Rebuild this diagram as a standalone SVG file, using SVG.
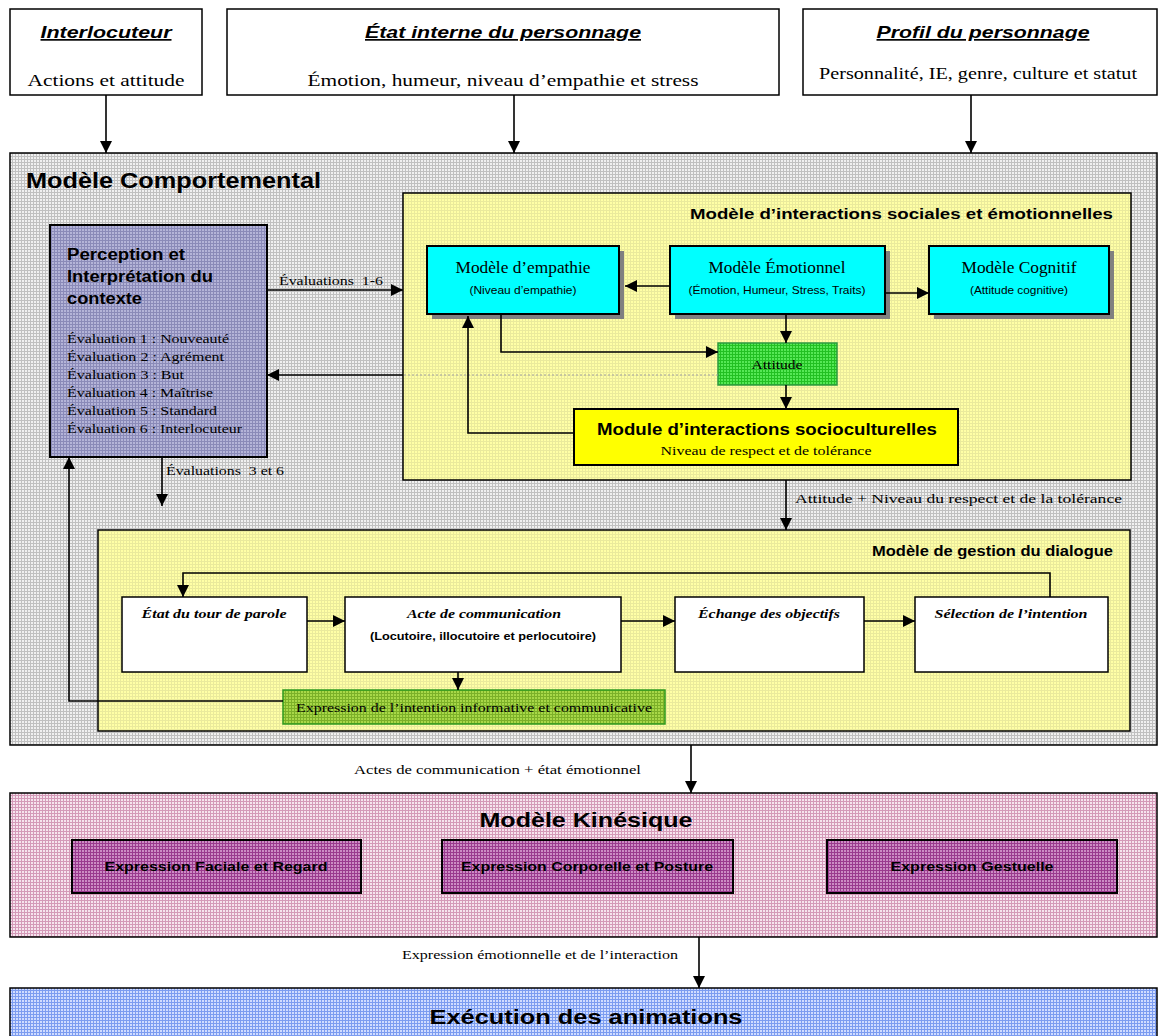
<svg xmlns="http://www.w3.org/2000/svg" width="1158" height="1036" viewBox="0 0 1158 1036">
<style>
.box{stroke:#000;stroke-width:1.5}
.thick{stroke:#000;stroke-width:2}
.ttl{font-family:"Liberation Sans",Arial,sans-serif;font-weight:bold;font-style:italic;text-decoration:underline;font-size:17px;text-anchor:middle}
.tm{font-family:"Liberation Serif","Times New Roman",serif;fill:#000}
.ar{font-family:"Liberation Sans",Arial,sans-serif;fill:#000}
.b{font-weight:bold}
.c{text-anchor:middle}
.e{text-anchor:end}
.conn{fill:none;stroke:#000;stroke-width:1.6}
.pre{white-space:pre}
</style>
<defs>
<marker id="ah" markerWidth="12" markerHeight="12" refX="12" refY="6" orient="auto" markerUnits="userSpaceOnUse">
<path d="M0,0 L12,6 L0,12 Z" fill="#000"/>
</marker>
<pattern id="pGray" width="3" height="3" patternUnits="userSpaceOnUse"><rect width="3" height="3" fill="#f0f0f0"/><path d="M0,0.5H3M0.5,0V3" stroke="#c0c0c0" stroke-width="1"/></pattern>
<pattern id="pYel" width="3" height="3" patternUnits="userSpaceOnUse"><rect width="3" height="3" fill="#ffffa6"/><path d="M0,0.5H3M0.5,0V3" stroke="#eaea9c" stroke-width="1"/></pattern>
<pattern id="pPer" width="3" height="3" patternUnits="userSpaceOnUse"><rect width="3" height="3" fill="#b4b4d8"/><path d="M0,0.5H3M0.5,0V3" stroke="#8a8ab8" stroke-width="1"/></pattern>
<pattern id="pPink" width="3" height="3" patternUnits="userSpaceOnUse"><rect width="3" height="3" fill="#f6e4ee"/><path d="M0,0.5H3M0.5,0V3" stroke="#d49ab8" stroke-width="1"/></pattern>
<pattern id="pPur" width="3" height="3" patternUnits="userSpaceOnUse"><rect width="3" height="3" fill="#cc8cc4"/><path d="M0,0.5H3M0.5,0V3" stroke="#9a3a8e" stroke-width="1"/></pattern>
<pattern id="pBlue" width="3" height="3" patternUnits="userSpaceOnUse"><rect width="3" height="3" fill="#d0dcff"/><path d="M0,0.5H3M0.5,0V3" stroke="#7c9cf0" stroke-width="1"/></pattern>
<pattern id="pGreen" width="3" height="3" patternUnits="userSpaceOnUse"><rect width="3" height="3" fill="#55e855"/><path d="M0,0.5H3M0.5,0V3" stroke="#22c022" stroke-width="1"/></pattern>
<pattern id="pOlive" width="3" height="3" patternUnits="userSpaceOnUse"><rect width="3" height="3" fill="#a8d848"/><path d="M0,0.5H3M0.5,0V3" stroke="#7cb028" stroke-width="1"/></pattern>
</defs>

<!-- top input boxes -->
<g id="interlocuteur">
<rect x="10" y="9" width="192" height="86" fill="#fff" class="box"/>
<text x="106" y="38" class="ttl" textLength="131" lengthAdjust="spacingAndGlyphs">Interlocuteur</text>
<text x="106" y="86" class="tm c" font-size="17" textLength="157" lengthAdjust="spacingAndGlyphs">Actions et attitude</text>
</g>
<g id="etat-interne">
<rect x="227" y="9" width="552" height="86" fill="#fff" class="box"/>
<text x="503" y="38" class="ttl" textLength="276" lengthAdjust="spacingAndGlyphs">État interne du personnage</text>
<text x="503" y="86" class="tm c" font-size="17" textLength="391" lengthAdjust="spacingAndGlyphs">Émotion, humeur, niveau d’empathie et stress</text>
</g>
<g id="profil">
<rect x="803" y="9" width="354" height="86" fill="#fff" class="box"/>
<text x="983" y="38" class="ttl" textLength="213" lengthAdjust="spacingAndGlyphs">Profil du personnage</text>
<text x="978" y="79" class="tm c" font-size="16" textLength="318" lengthAdjust="spacingAndGlyphs">Personnalité, IE, genre, culture et statut</text>
</g>

<!-- behavioural model -->
<g id="modele-comportemental">
<rect x="10" y="153" width="1147" height="592" fill="url(#pGray)" class="box"/>
<text x="26" y="188" class="ar b" font-size="22" textLength="295" lengthAdjust="spacingAndGlyphs">Modèle Comportemental</text>
</g>
<g id="modele-interactions">
<rect x="403" y="193" width="728" height="287" fill="url(#pYel)" class="box"/>
<text x="1113" y="219" class="ar b e" font-size="15" textLength="423" lengthAdjust="spacingAndGlyphs">Modèle d’interactions sociales et émotionnelles</text>
</g>
<g id="perception">
<rect x="50" y="225" width="217" height="232" fill="url(#pPer)" class="thick"/>
<text x="67" y="260" class="ar b" font-size="16" textLength="118" lengthAdjust="spacingAndGlyphs">Perception et</text>
<text x="67" y="282" class="ar b" font-size="16" textLength="146" lengthAdjust="spacingAndGlyphs">Interprétation du</text>
<text x="67" y="304" class="ar b" font-size="16" textLength="75" lengthAdjust="spacingAndGlyphs">contexte</text>
<text x="67" y="343" class="tm" font-size="13.5" textLength="162" lengthAdjust="spacingAndGlyphs">Évaluation 1 : Nouveauté</text>
<text x="67" y="361" class="tm" font-size="13.5" textLength="157" lengthAdjust="spacingAndGlyphs">Évaluation 2 : Agrément</text>
<text x="67" y="379" class="tm" font-size="13.5" textLength="117" lengthAdjust="spacingAndGlyphs">Évaluation 3 : But</text>
<text x="67" y="397" class="tm" font-size="13.5" textLength="146" lengthAdjust="spacingAndGlyphs">Évaluation 4 : Maîtrise</text>
<text x="67" y="415" class="tm" font-size="13.5" textLength="150" lengthAdjust="spacingAndGlyphs">Évaluation 5 : Standard</text>
<text x="67" y="433" class="tm" font-size="13.5" textLength="175" lengthAdjust="spacingAndGlyphs">Évaluation 6 : Interlocuteur</text>
</g>
<g id="empathie">
<rect x="432" y="251" width="192" height="68" fill="#808080"/>
<rect x="427" y="246" width="192" height="68" fill="#00ffff" class="thick"/>
<text x="523" y="273" class="tm c" font-size="16" textLength="135" lengthAdjust="spacingAndGlyphs">Modèle d’empathie</text>
<text x="523" y="294" class="ar c" font-size="11" textLength="107" lengthAdjust="spacingAndGlyphs">(Niveau d’empathie)</text>
</g>
<g id="emotionnel">
<rect x="675" y="251" width="215" height="68" fill="#808080"/>
<rect x="670" y="246" width="215" height="68" fill="#00ffff" class="thick"/>
<text x="777" y="273" class="tm c" font-size="16" textLength="137" lengthAdjust="spacingAndGlyphs">Modèle Émotionnel</text>
<text x="777" y="294" class="ar c" font-size="11" textLength="177" lengthAdjust="spacingAndGlyphs">(Émotion, Humeur, Stress, Traits)</text>
</g>
<g id="cognitif">
<rect x="934" y="251" width="180" height="68" fill="#808080"/>
<rect x="929" y="246" width="180" height="68" fill="#00ffff" class="thick"/>
<text x="1019" y="273" class="tm c" font-size="16" textLength="115" lengthAdjust="spacingAndGlyphs">Modèle Cognitif</text>
<text x="1019" y="294" class="ar c" font-size="11" textLength="98" lengthAdjust="spacingAndGlyphs">(Attitude cognitive)</text>
</g>
<g id="attitude">
<rect x="718" y="343" width="119" height="42" fill="url(#pGreen)" stroke="#2f9a3f" stroke-width="1.5"/>
<text x="777" y="369" class="tm c" font-size="13" textLength="51" lengthAdjust="spacingAndGlyphs">Attitude</text>
</g>
<g id="socioculturel">
<rect x="574" y="409" width="384" height="56" fill="#ffff00" class="thick"/>
<text x="767" y="435" class="ar b c" font-size="17" textLength="340" lengthAdjust="spacingAndGlyphs">Module d’interactions socioculturelles</text>
<text x="766" y="455" class="tm c" font-size="13" textLength="211" lengthAdjust="spacingAndGlyphs">Niveau de respect et de tolérance</text>
</g>

<!-- dialogue -->
<g id="modele-dialogue">
<rect x="98" y="530" width="1032" height="201" fill="url(#pYel)" class="box"/>
<text x="1113" y="556" class="ar b e" font-size="15" textLength="241" lengthAdjust="spacingAndGlyphs">Modèle de gestion du dialogue</text>
</g>
<g id="tour-parole">
<rect x="122" y="597" width="185" height="75" fill="#fff" class="box"/>
<text x="214" y="618" class="tm b c" font-style="italic" font-size="13" textLength="145" lengthAdjust="spacingAndGlyphs">État du tour de parole</text>
</g>
<g id="acte-communication">
<rect x="345" y="597" width="276" height="75" fill="#fff" class="box"/>
<text x="484" y="618" class="tm b c" font-style="italic" font-size="13" textLength="154" lengthAdjust="spacingAndGlyphs">Acte de communication</text>
<text x="483" y="640" class="ar b c" font-size="10" textLength="226" lengthAdjust="spacingAndGlyphs">(Locutoire, illocutoire et perlocutoire)</text>
</g>
<g id="echange-objectifs">
<rect x="675" y="597" width="189" height="75" fill="#fff" class="box"/>
<text x="769" y="618" class="tm b c" font-style="italic" font-size="13" textLength="142" lengthAdjust="spacingAndGlyphs">Échange des objectifs</text>
</g>
<g id="selection-intention">
<rect x="915" y="597" width="193" height="75" fill="#fff" class="box"/>
<text x="1011" y="618" class="tm b c" font-style="italic" font-size="13" textLength="153" lengthAdjust="spacingAndGlyphs">Sélection de l’intention</text>
</g>
<g id="expression-intention">
<rect x="283" y="690" width="382" height="34" fill="url(#pOlive)" stroke="#2f9a1f" stroke-width="1.5"/>
<text x="474" y="712" class="tm c" font-size="13" textLength="356" lengthAdjust="spacingAndGlyphs">Expression de l’intention informative et communicative</text>
</g>

<!-- kinesic -->
<g id="modele-kinesique">
<rect x="10" y="793" width="1147" height="144" fill="url(#pPink)" class="box"/>
<text x="586" y="827" class="ar b c" font-size="21" textLength="213" lengthAdjust="spacingAndGlyphs">Modèle Kinésique</text>
</g>
<g id="faciale">
<rect x="72" y="840" width="289" height="53" fill="url(#pPur)" class="thick"/>
<text x="216" y="871" class="ar b c" font-size="12.5" textLength="223" lengthAdjust="spacingAndGlyphs">Expression Faciale et Regard</text>
</g>
<g id="corporelle">
<rect x="442" y="840" width="291" height="53" fill="url(#pPur)" class="thick"/>
<text x="587" y="871" class="ar b c" font-size="12.5" textLength="252" lengthAdjust="spacingAndGlyphs">Expression Corporelle et Posture</text>
</g>
<g id="gestuelle">
<rect x="827" y="840" width="290" height="53" fill="url(#pPur)" class="thick"/>
<text x="972" y="871" class="ar b c" font-size="12.5" textLength="163" lengthAdjust="spacingAndGlyphs">Expression Gestuelle</text>
</g>

<g id="execution">
<rect x="10" y="988" width="1147" height="60" fill="url(#pBlue)" class="box"/>
<text x="586" y="1024" class="ar b c" font-size="21" textLength="313" lengthAdjust="spacingAndGlyphs">Exécution des animations</text>
</g>

<!-- connectors -->
<g id="connectors">
<line x1="106" y1="95" x2="106" y2="153" class="conn" marker-end="url(#ah)"/>
<line x1="514" y1="95" x2="514" y2="153" class="conn" marker-end="url(#ah)"/>
<line x1="971" y1="95" x2="971" y2="153" class="conn" marker-end="url(#ah)"/>
<line x1="268" y1="290" x2="403" y2="290" class="conn" marker-end="url(#ah)"/>
<line x1="718" y1="375" x2="403" y2="375" stroke="#a0a0a0" stroke-width="1.2" stroke-dasharray="2,2"/>
<line x1="403" y1="375" x2="267" y2="375" class="conn" marker-end="url(#ah)"/>
<line x1="162" y1="457" x2="162" y2="506" class="conn" marker-end="url(#ah)"/>
<path d="M283,701 H69 V457" class="conn" marker-end="url(#ah)"/>
<line x1="670" y1="286" x2="625" y2="286" class="conn" marker-end="url(#ah)"/>
<line x1="885" y1="293" x2="929" y2="293" class="conn" marker-end="url(#ah)"/>
<line x1="786" y1="314" x2="786" y2="343" class="conn" marker-end="url(#ah)"/>
<path d="M501,314 V352 H718" class="conn" marker-end="url(#ah)"/>
<line x1="786" y1="385" x2="786" y2="409" class="conn" marker-end="url(#ah)"/>
<path d="M574,433 H468 V316" class="conn" marker-end="url(#ah)"/>
<line x1="786" y1="480" x2="786" y2="530" class="conn" marker-end="url(#ah)"/>
<path d="M1050,597 V573 H183 V597" class="conn" marker-end="url(#ah)"/>
<line x1="307" y1="621" x2="345" y2="621" class="conn" marker-end="url(#ah)"/>
<line x1="621" y1="621" x2="675" y2="621" class="conn" marker-end="url(#ah)"/>
<line x1="864" y1="621" x2="915" y2="621" class="conn" marker-end="url(#ah)"/>
<line x1="458" y1="672" x2="458" y2="690" class="conn" marker-end="url(#ah)"/>
<line x1="691" y1="745" x2="691" y2="793" class="conn" marker-end="url(#ah)"/>
<line x1="699" y1="937" x2="699" y2="988" class="conn" marker-end="url(#ah)"/>
<text x="279" y="285" class="tm pre" font-size="13" textLength="104" lengthAdjust="spacingAndGlyphs">Évaluations  1-6</text>
<text x="166" y="475" class="tm pre" font-size="13" textLength="118" lengthAdjust="spacingAndGlyphs">Évaluations  3 et 6</text>
<text x="795" y="503" class="tm" font-size="13" textLength="327" lengthAdjust="spacingAndGlyphs">Attitude + Niveau du respect et de la tolérance</text>
<text x="354" y="774" class="tm" font-size="13" textLength="287" lengthAdjust="spacingAndGlyphs">Actes de communication + état émotionnel</text>
<text x="402" y="959" class="tm" font-size="13" textLength="276" lengthAdjust="spacingAndGlyphs">Expression émotionnelle et de l’interaction</text>
</g>
</svg>
